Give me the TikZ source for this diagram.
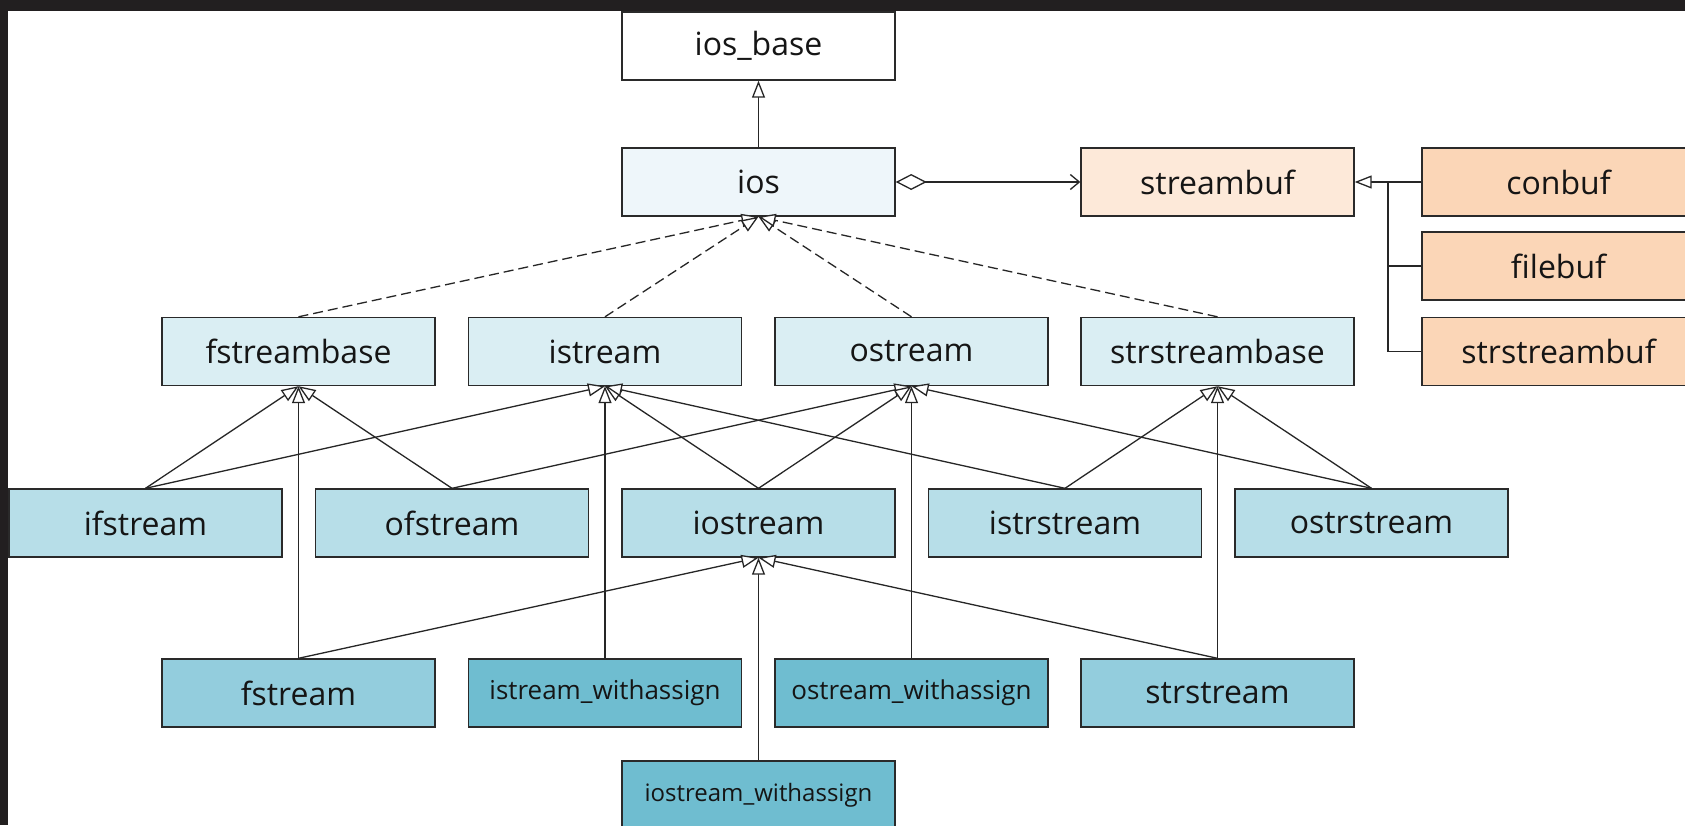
\documentclass[tikz,border=0pt]{standalone}
\usepackage{fontspec}
\setmainfont{Open Sans}
\usetikzlibrary{arrows.meta}
\definecolor{frame}{HTML}{221F20}
\definecolor{bordc}{HTML}{2A2A2A}
\definecolor{linec}{HTML}{262626}
\definecolor{txt}{HTML}{151515}
\definecolor{cios}{HTML}{EEF6FA}
\definecolor{crowa}{HTML}{DAEEF3}
\definecolor{crowb}{HTML}{B7DEE8}
\definecolor{crowc}{HTML}{93CDDD}
\definecolor{crowd}{HTML}{6FBDD0}
\definecolor{cbuf}{HTML}{FDE9D9}
\definecolor{cbufb}{HTML}{FBD6B7}
\begin{document}
\begin{tikzpicture}[x=1pt,y=-1pt,
  box/.style={draw=bordc, line width=1.4pt, minimum width=273pt, minimum height=68pt,
    inner sep=0pt, text=txt, font=\fontsize{32}{36}\selectfont},
  smallbox/.style={box, font=\fontsize{26}{30}\selectfont},
  tinybox/.style={box, font=\fontsize{24}{28}\selectfont},
  link/.style={draw=linec, line width=1.3pt},
  inh/.style={link, -{Triangle[length=17pt,width=13pt,fill=white,line width=1.3pt]}},
  real/.style={inh, dash pattern=on 10pt off 5pt}]
\useasboundingbox (0,0) rectangle (1685,825);
\fill[frame] (0,0) rectangle (1685,825);
\fill[white] (8,11) rectangle (1685,825);

% row 0/1
\node[box, fill=white] (iosbase) at (758.5,46) {ios\_base};
\node[box, fill=cios] (ios) at (758.5,182) {ios};
\node[box, fill=cbuf] (streambuf) at (1217.5,182) {streambuf};
\node[box, fill=cbufb] (conbuf) at (1558.5,182) {conbuf};
\node[box, fill=cbufb] (filebuf) at (1558.5,266) {filebuf};
\node[box, fill=cbufb] (strstreambuf) at (1558.5,351.5) {strstreambuf};

% row 2
\node[box, fill=crowa] (fstreambase) at (298.5,351.5) {fstreambase};
\node[box, fill=crowa] (istream) at (605,351.5) {istream};
\node[box, fill=crowa] (ostream) at (911.5,351.5) {ostream};
\node[box, fill=crowa] (strstreambase) at (1217.5,351.5) {strstreambase};

% row 3
\node[box, fill=crowb] (ifstream) at (145.5,523) {ifstream};
\node[box, fill=crowb] (ofstream) at (452,523) {ofstream};
\node[box, fill=crowb] (iostream) at (758.5,523) {iostream};
\node[box, fill=crowb] (istrstream) at (1065,523) {istrstream};
\node[box, fill=crowb] (ostrstream) at (1371.5,523) {ostrstream};

% row 4
\node[box, fill=crowc] (fstream) at (298.5,693) {fstream};
\node[smallbox, fill=crowd] (istreamwa) at (605,693) {istream\_withassign};
\node[smallbox, fill=crowd] (ostreamwa) at (911.5,693) {ostream\_withassign};
\node[box, fill=crowc] (strstream) at (1217.5,693) {strstream};

% row 5
\node[tinybox, fill=crowd] (iostreamwa) at (758.5,795) {iostream\_withassign};

% connectors
\draw[inh] (ios.north) -- (iosbase.south);
\draw[link,
  {Diamond[length=31pt,width=16pt,fill=white,line width=1.3pt]}-{Straight Barb[length=9pt,width=15pt,line width=1.3pt]}]
  (ios.east) -- (streambuf.west);

\coordinate (trunk) at (1388,182);
\draw[inh] (conbuf.west) -- (streambuf.east);
\draw[link] (filebuf.west) -| (trunk);
\draw[link] (strstreambuf.west) -| (trunk);

\draw[real] (fstreambase.north) -- (ios.south);
\draw[real] (istream.north) -- (ios.south);
\draw[real] (ostream.north) -- (ios.south);
\draw[real] (strstreambase.north) -- (ios.south);

\draw[inh] (ifstream.north) -- (fstreambase.south);
\draw[inh] (ifstream.north) -- (istream.south);
\draw[inh] (ofstream.north) -- (fstreambase.south);
\draw[inh] (ofstream.north) -- (ostream.south);
\draw[inh] (iostream.north) -- (istream.south);
\draw[inh] (iostream.north) -- (ostream.south);
\draw[inh] (istrstream.north) -- (istream.south);
\draw[inh] (istrstream.north) -- (strstreambase.south);
\draw[inh] (ostrstream.north) -- (ostream.south);
\draw[inh] (ostrstream.north) -- (strstreambase.south);

\draw[inh] (fstream.north) -- (fstreambase.south);
\draw[inh] (fstream.north) -- (iostream.south);
\draw[inh] (istreamwa.north) -- (istream.south);
\draw[inh] (ostreamwa.north) -- (ostream.south);
\draw[inh] (strstream.north) -- (strstreambase.south);
\draw[inh] (strstream.north) -- (iostream.south);
\draw[inh] (iostreamwa.north) -- (iostream.south);
\end{tikzpicture}
\end{document}
